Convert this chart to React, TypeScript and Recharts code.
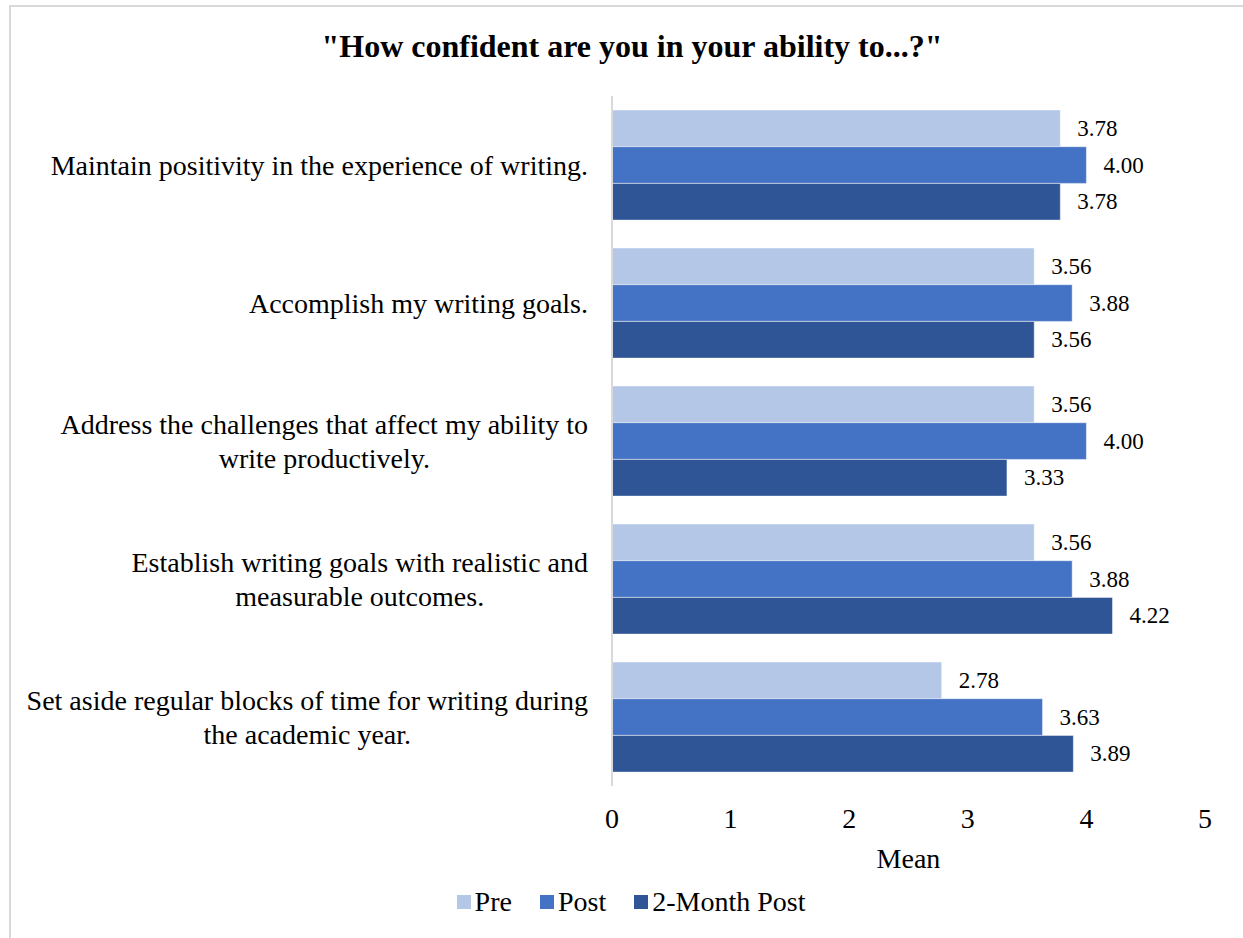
import React from 'react';
import { BarChart, Bar, XAxis, YAxis, LabelList } from 'recharts';

const categories = [
  'Maintain positivity in the experience of writing.',
  'Accomplish my writing goals.',
  'Address the challenges that affect my ability to\nwrite productively.',
  'Establish writing goals with realistic and\nmeasurable outcomes.',
  'Set aside regular blocks of time for writing during\nthe academic year.',
];

const preValues = [3.78, 3.56, 3.56, 3.56, 2.78];
const postValues = [4.0, 3.88, 4.0, 3.88, 3.63];
const twoMonthValues = [3.78, 3.56, 3.33, 4.22, 3.89];

const xTicks = [0, 1, 2, 3, 4, 5];

const series = [
  { key: 'pre', name: 'Pre', color: '#B4C7E7' },
  { key: 'post', name: 'Post', color: '#4472C4' },
  { key: 'twoMonth', name: '2-Month Post', color: '#2F5597' },
];

const data = categories.map((category, i) => ({
  category,
  pre: preValues[i],
  post: postValues[i],
  twoMonth: twoMonthValues[i],
}));

const FONT = '"Liberation Serif", "Times New Roman", serif';

let measureCtx: CanvasRenderingContext2D | null = null;
const measure = (text: string, font: string) => {
  if (!measureCtx) measureCtx = document.createElement('canvas').getContext('2d');
  if (!measureCtx) return text.length * 12;
  measureCtx.font = font;
  return measureCtx.measureText(text).width;
};

// category labels: lines are centred on each other, right edge on the widest line
const CategoryTick = ({ x, y, payload }: any) => {
  const lines: string[] = String(payload.value).split('\n');
  const widths = lines.map((l) => measure(l, `28px ${FONT}`));
  const maxW = Math.max(...widths);
  const cx = x - maxW / 2;
  const lineH = 34;
  const startY = y - ((lines.length - 1) * lineH) / 2;
  return (
    <g>
      {lines.map((l, i) => (
        <text
          key={i}
          x={cx}
          y={startY + i * lineH}
          textAnchor="middle"
          dominantBaseline="central"
          fontFamily={FONT}
          fontSize={28}
          fill="#000"
        >
          {l}
        </text>
      ))}
    </g>
  );
};

const ValueLabel = ({ x, y, width, height, value }: any) => (
  <text
    x={x + width + 17}
    y={y + height / 2}
    dominantBaseline="central"
    fontFamily={FONT}
    fontSize={23}
    fill="#000"
  >
    {Number(value).toFixed(2)}
  </text>
);

export default function App() {
  return (
    <div style={{ position: 'absolute', left: 0, top: 0, width: 1243, height: 938, background: '#fff', overflow: 'hidden' }}>
      <div
        style={{
          position: 'absolute',
          left: 9,
          top: 5,
          width: 1240,
          height: 960,
          border: '2px solid #D9D9D9',
          boxSizing: 'border-box',
        }}
      />
      <div
        style={{
          position: 'absolute',
          left: 9,
          top: 26,
          width: 1240,
          textAlign: 'center',
          fontFamily: FONT,
          fontWeight: 'bold',
          fontSize: 32,
          lineHeight: '40px',
          color: '#000',
          paddingLeft: 6,
          boxSizing: 'border-box',
        }}
      >
        "How confident are you in your ability to...?"
      </div>
      <div style={{ position: 'absolute', left: 0, top: 0 }}>
        <BarChart
          width={1243}
          height={938}
          data={data}
          layout="vertical"
          margin={{ top: 96, right: 38, bottom: 112, left: 0 }}
          barGap={0}
        >
          <XAxis
            type="number"
            domain={[0, 5]}
            ticks={xTicks}
            axisLine={false}
            tickLine={false}
            tickSize={0}
            tickMargin={22}
            height={40}
            tick={{ fill: '#000', fontSize: 28, fontFamily: FONT }}
            label={{ value: 'Mean', position: 'bottom', offset: 22, fill: '#000', fontSize: 28, fontFamily: FONT }}
          />
          <YAxis
            type="category"
            dataKey="category"
            width={612}
            axisLine={{ stroke: '#D9D9D9', strokeWidth: 2 }}
            tickLine={false}
            tickSize={0}
            tickMargin={24}
            tick={<CategoryTick />}
            interval={0}
          />
          {series.map((s) => (
            <Bar
              key={s.key}
              dataKey={s.key}
              name={s.name}
              fill={s.color}
              barSize={36.7}
              stroke="#ffffff"
              strokeOpacity={0.45}
              strokeWidth={1}
              isAnimationActive={false}
            >
              <LabelList dataKey={s.key} content={<ValueLabel />} />
            </Bar>
          ))}
        </BarChart>
      </div>
      <div
        style={{
          position: 'absolute',
          left: 9,
          top: 884,
          width: 1240,
          display: 'flex',
          justifyContent: 'center',
          gap: 28,
          fontFamily: FONT,
          fontSize: 28,
          lineHeight: '36px',
          color: '#000',
          paddingLeft: 4,
          boxSizing: 'border-box',
        }}
      >
        {series.map((s) => (
          <div key={s.key} style={{ display: 'flex', alignItems: 'center' }}>
            <span style={{ display: 'inline-block', width: 14, height: 14, background: s.color, marginRight: 4 }} />
            <span>{s.name}</span>
          </div>
        ))}
      </div>
    </div>
  );
}
